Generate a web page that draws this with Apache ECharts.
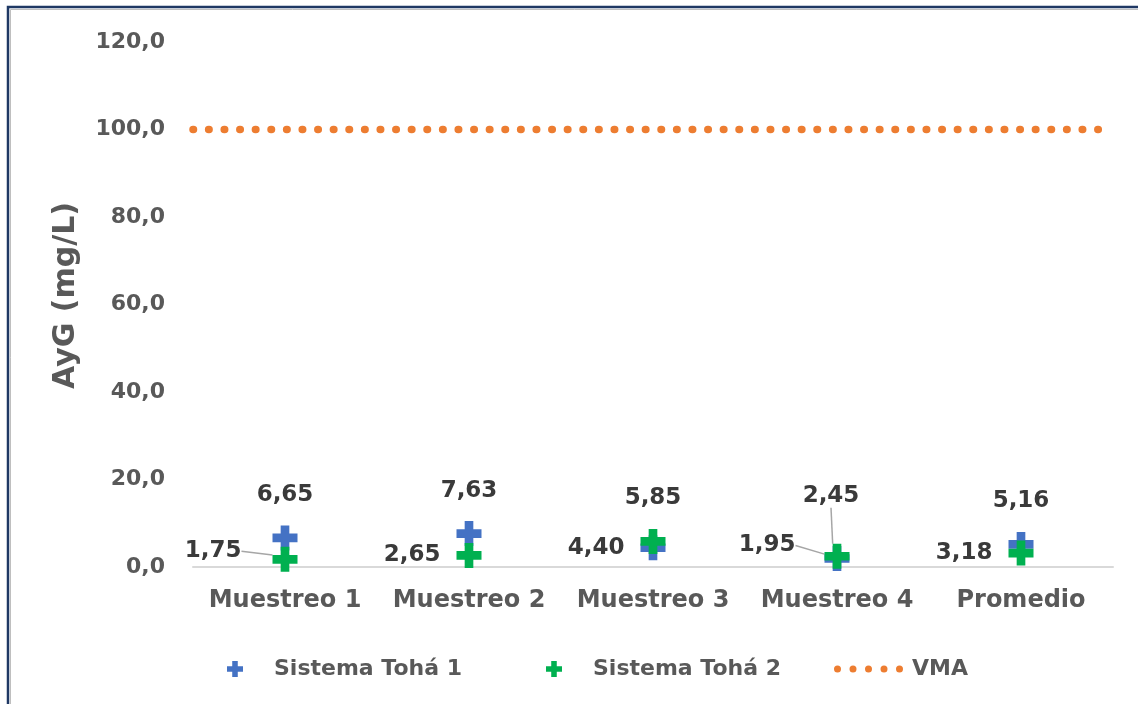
<!DOCTYPE html>
<html>
<head>
<meta charset="utf-8">
<script src="https://cdn.jsdelivr.net/npm/echarts@6/dist/echarts.min.js"></script>
<style>
html,body{margin:0;padding:0;background:#fff;}
#c{width:1138px;height:704px;}
</style>
</head>
<body>
<div id="c"></div>
<script>
const categories = ['Muestreo 1', 'Muestreo 2', 'Muestreo 3', 'Muestreo 4', 'Promedio'];
const toha1 = [6.65, 7.63, 4.40, 1.95, 5.16];
const toha2 = [1.75, 2.65, 5.85, 2.45, 3.18];
const vma = 100;
const yTicks = { min: 0, max: 120, interval: 20 };

// label placement (presentation only)
const pos1 = ['top', 'top', 'left', 'left', 'top'];
const pos2 = ['left', 'left', 'top', 'top', 'left'];
const move1 = { 3: [-13, -13] };
const move2 = { 0: [-15, -8], 3: [-6, -17] };

const FONT = 'DejaVu Sans';
const plusPath = 'path://M8.5,0H17.5V8.5H26V17.5H17.5V26H8.5V17.5H0V8.5H8.5Z';
const dotsPath = 'path://M0,3.5a3.5,3.5 0 1,0 7,0a3.5,3.5 0 1,0 -7,0Z M15.5,3.5a3.5,3.5 0 1,0 7,0a3.5,3.5 0 1,0 -7,0Z M31,3.5a3.5,3.5 0 1,0 7,0a3.5,3.5 0 1,0 -7,0Z M46.5,3.5a3.5,3.5 0 1,0 7,0a3.5,3.5 0 1,0 -7,0Z M62,3.5a3.5,3.5 0 1,0 7,0a3.5,3.5 0 1,0 -7,0Z';

const fmt = v => v.toFixed(2).replace('.', ',');
const labelBase = {
  show: true, fontFamily: FONT, fontWeight: 'bold', fontSize: 23, color: '#3A3A3A',
  formatter: p => fmt(p.value)
};

function mkData(vals, pos, move) {
  return vals.map((v, i) => ({
    value: v,
    label: { position: pos[i], distance: pos[i] === 'top' ? 19 : 16 },
    labelLine: { show: !!move[i] }
  }));
}
function mkLayout(move) {
  return function (p) {
    const m = move[p.dataIndex];
    return m ? { dx: m[0], dy: m[1] } : {};
  };
}

const chart = echarts.init(document.getElementById('c'));
const legendText = { fontFamily: FONT, fontWeight: 'bold', fontSize: 22, color: '#595959' };

chart.setOption({
  animation: false,
  backgroundColor: '#fff',
  graphic: [
    { type: 'rect', shape: { x: 8, y: 7, width: 1200, height: 800 }, style: { fill: 'none', stroke: '#1F3864', lineWidth: 2.5 }, z: 100 },
    { type: 'rect', shape: { x: 10.5, y: 9.5, width: 1200, height: 800 }, style: { fill: 'none', stroke: '#BFBFBF', lineWidth: 1 }, z: 100 }
  ],
  grid: { left: 193, right: 25, top: 42, bottom: 137 },
  legend: [
    { data: ['Sistema Tohá 1'], left: 222, top: 653, icon: plusPath, itemWidth: 16, itemHeight: 17,
      textStyle: Object.assign({ padding: [0, 0, 0, 26] }, legendText) },
    { data: ['Sistema Tohá 2'], left: 541, top: 653, icon: plusPath, itemWidth: 16, itemHeight: 17,
      textStyle: Object.assign({ padding: [0, 0, 0, 26] }, legendText) },
    { data: ['VMA'], left: 829, top: 653, icon: dotsPath, itemWidth: 69, itemHeight: 7,
      textStyle: Object.assign({ padding: [0, 0, 0, 4] }, legendText) }
  ],
  xAxis: [
    { type: 'category', data: categories,
      axisLine: { lineStyle: { color: '#D9D9D9', width: 2 } },
      axisTick: { show: false },
      axisLabel: { interval: 0, fontFamily: FONT, fontWeight: 'bold', fontSize: 24, color: '#595959', margin: 22 } },
    { type: 'value', min: 0, max: 1, show: false }
  ],
  yAxis: {
    type: 'value', min: yTicks.min, max: yTicks.max, interval: yTicks.interval,
    name: 'AyG (mg/L)', nameLocation: 'middle', nameGap: 112,
    nameTextStyle: { fontFamily: FONT, fontWeight: 'bold', fontSize: 30, color: '#595959', padding: [0, 0, 0, 18] },
    axisLine: { show: false }, axisTick: { show: false }, splitLine: { show: false },
    axisLabel: { fontFamily: FONT, fontWeight: 'bold', fontSize: 22, color: '#595959', margin: 28,
      formatter: v => v.toFixed(1).replace('.', ',') }
  },
  series: [
    { name: 'Sistema Tohá 1', type: 'scatter', symbol: plusPath, symbolSize: 25,
      itemStyle: { color: '#4472C4', opacity: 1 },
      data: mkData(toha1, pos1, move1), label: labelBase,
      labelLine: { lineStyle: { color: '#A6A6A6', width: 1.5 } },
      labelLayout: mkLayout(move1), z: 2 },
    { name: 'Sistema Tohá 2', type: 'scatter', symbol: plusPath, symbolSize: 25,
      itemStyle: { color: '#00B050', opacity: 1 },
      data: mkData(toha2, pos2, move2), label: labelBase,
      labelLine: { lineStyle: { color: '#A6A6A6', width: 1.5 } },
      labelLayout: mkLayout(move2), z: 3 },
    { name: 'VMA', type: 'line', xAxisIndex: 1, showSymbol: false, symbol: 'none',
      data: [[0, vma], [1, vma]],
      itemStyle: { color: '#ED7D31' },
      lineStyle: { color: '#ED7D31', width: 7.5, type: [0.5, 15.1], cap: 'round' }, z: 1 }
  ]
});
</script>
</body>
</html>
